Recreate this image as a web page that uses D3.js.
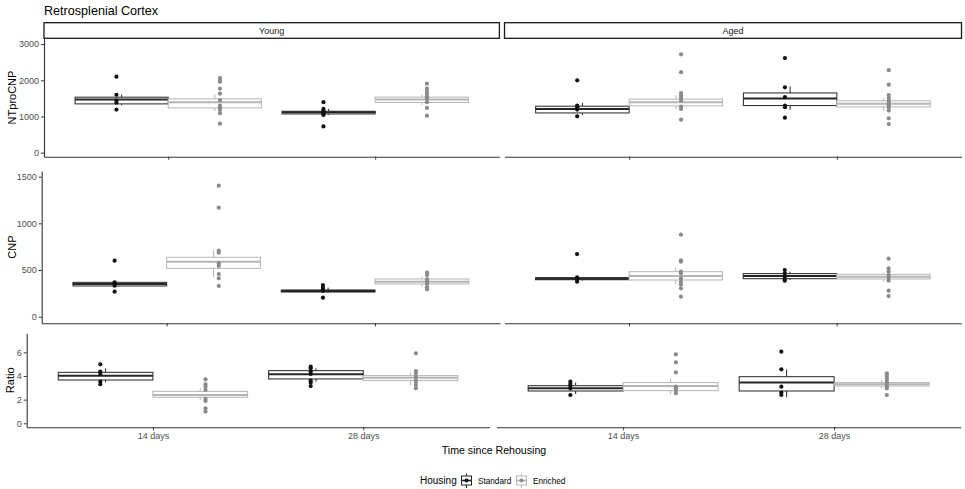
<!DOCTYPE html>
<html>
<head>
<meta charset="utf-8">
<script src="https://cdn.jsdelivr.net/npm/d3@7"></script>
<style>
  body { margin: 0; background: #fff; }
  svg { display: block; font-family: "Liberation Sans", Arial, sans-serif; }
</style>
</head>
<body>
<script>
// categories
var ages = ["Young", "Aged"];
var times = ["14 days", "28 days"];
var housing = ["Standard", "Enriched"];

// group order: Young14-Std, Young14-Enr, Young28-Std, Young28-Enr, Aged14-Std, Aged14-Enr, Aged28-Std, Aged28-Enr
// box stats: [lower whisker, q1, median, q3, upper whisker]
var ntproBox = [
    [1310, 1348, 1468, 1533, 1610],
    [1154, 1237, 1394, 1487, 1616],
    [1042, 1070, 1116, 1144, 1209],
    [1321, 1386, 1470, 1535, 1600],
    [1042, 1098, 1209, 1284, 1377],
    [1209, 1293, 1395, 1479, 1581],
    [1181, 1302, 1500, 1650, 1833],
    [1163, 1265, 1349, 1433, 1507]
];
var ntproPoints = [
    [2100, 1600, 1440, 1380, 1190],
    [2060, 2010, 1960, 1770, 1630, 1450, 1300, 1250, 1180, 1090, 800],
    [1395, 1209, 1163, 1116, 1070, 1042, 726],
    [1907, 1767, 1693, 1628, 1553, 1488, 1395, 1237, 1023],
    [2000, 1302, 1256, 1190, 1005],
    [2716, 2223, 1647, 1581, 1516, 1442, 1274, 1209, 912],
    [2614, 1805, 1535, 1302, 1256, 967],
    [2279, 1879, 1591, 1516, 1442, 1377, 1312, 1246, 1163, 949, 791]
];

var cnpBox = [
    [325, 329, 350, 368, 372],
    [420, 518, 589, 636, 714],
    [257, 264, 275, 286, 311],
    [321, 350, 375, 404, 429],
    [386, 396, 407, 418, 425],
    [350, 393, 436, 482, 529],
    [393, 407, 436, 461, 482],
    [375, 404, 429, 454, 471]
];
var cnpPoints = [
    [600, 368, 350, 332, 268],
    [1404, 1168, 707, 686, 571, 543, 457, 411, 329],
    [339, 311, 293, 275, 204],
    [471, 446, 400, 375, 350, 314, 293],
    [671, 421, 400, 375],
    [879, 604, 589, 482, 464, 411, 375, 346, 304, 214],
    [500, 464, 429, 400, 386],
    [621, 518, 482, 446, 421, 386, 279, 221]
];

var ratioBox = [
    [3.46, 3.66, 4.03, 4.31, 4.65],
    [1.97, 2.20, 2.39, 2.70, 2.96],
    [3.52, 3.75, 4.14, 4.45, 4.65],
    [3.24, 3.61, 3.86, 4.03, 4.28],
    [2.48, 2.73, 2.96, 3.18, 3.44],
    [2.48, 2.76, 3.15, 3.44, 3.75],
    [2.20, 2.73, 3.44, 3.94, 4.56],
    [2.96, 3.15, 3.30, 3.44, 3.66]
];
var ratioPoints = [
    [4.99, 4.37, 4.17, 3.52, 3.30],
    [3.72, 3.30, 3.10, 2.82, 2.06, 1.89, 1.27, 0.99],
    [4.79, 4.65, 4.37, 4.17, 3.61, 3.44, 3.15],
    [5.92, 4.42, 4.23, 3.94, 3.66, 3.52, 3.24, 2.96],
    [3.52, 3.32, 3.15, 2.96, 2.39],
    [5.83, 5.15, 4.31, 3.10, 2.96, 2.76, 2.54],
    [6.06, 4.56, 3.10, 2.59, 2.39],
    [4.23, 4.03, 3.80, 3.61, 3.38, 3.15, 2.96, 2.39]
];

// tick labels
var ntproTicks = [0, 1000, 2000, 3000];
var cnpTicks = [0, 500, 1000, 1500];
var ratioTicks = [0, 2, 4, 6];

var width = 965, height = 489;
var boxColor = { "Standard": "#262626", "Enriched": "#b5b5b5" };
var pointColor = { "Standard": "#111111", "Enriched": "#8a8a8a" };

var svg = d3.select("body").append("svg")
    .attr("width", width)
    .attr("height", height);

svg.append("text")
    .attr("x", 44)
    .attr("y", 14.5)
    .attr("font-size", "12.6px")
    .attr("fill", "#000")
    .text("Retrosplenial Cortex");

var rows = [
    { label: "NTproCNP", box: ntproBox, pts: ntproPoints, ticks: ntproTicks,
      domain: [-111, 3160], bottom: 156.7, top: 38.3,
      panels: [[44, 499.4], [504.5, 961.5]], strip: true, xlabels: false, titleX: 15.5 },
    { label: "CNP", box: cnpBox, pts: cnpPoints, ticks: cnpTicks,
      domain: [-71, 1561], bottom: 323.3, top: 171,
      panels: [[41.7, 500], [504.4, 961.3]], strip: false, xlabels: false, titleX: 15.5 },
    { label: "Ratio", box: ratioBox, pts: ratioPoints, ticks: ratioTicks,
      domain: [-0.34, 7.61], bottom: 427.3, top: 333.3,
      panels: [[26.7, 489.5], [496.5, 960.7]], strip: false, xlabels: true, titleX: 14 }
];

rows.forEach(function(row) {
    var y = d3.scaleLinear().domain(row.domain).range([row.bottom, row.top]);

    svg.append("text")
        .attr("transform", "translate(" + row.titleX + "," + ((row.top + row.bottom) / 2) + ") rotate(-90)")
        .attr("text-anchor", "middle")
        .attr("font-size", "11px")
        .attr("fill", "#000")
        .text(row.label);

    ages.forEach(function(age, p) {
        var ext = row.panels[p];
        var x = d3.scalePoint().domain(times).range(ext).padding(0.6);
        var step = x.step();
        var g = svg.append("g");

        if (row.strip) {
            g.append("rect")
                .attr("x", ext[0])
                .attr("y", 22.7)
                .attr("width", ext[1] - ext[0])
                .attr("height", 15.6)
                .attr("fill", "#fff")
                .attr("stroke", "#1a1a1a")
                .attr("stroke-width", 1.3);
            g.append("text")
                .attr("x", (ext[0] + ext[1]) / 2)
                .attr("y", 33.6)
                .attr("text-anchor", "middle")
                .attr("font-size", "9px")
                .attr("fill", "#1a1a1a")
                .text(age);
        }

        var groups = [];
        times.forEach(function(t, ti) {
            housing.forEach(function(h, hi) {
                var idx = p * 4 + ti * 2 + hi;
                groups.push({ time: t, house: h, side: hi === 0 ? -1 : 1,
                              stats: row.box[idx], pts: row.pts[idx] });
            });
        });

        var bw = step * 0.45;
        groups.forEach(function(d) {
            var cx = x(d.time) + d.side * step * 0.225;
            var s = d.stats;
            var col = boxColor[d.house];
            g.append("line")
                .attr("x1", cx).attr("x2", cx)
                .attr("y1", y(s[3])).attr("y2", y(s[4]))
                .attr("stroke", col).attr("stroke-width", 1);
            g.append("line")
                .attr("x1", cx).attr("x2", cx)
                .attr("y1", y(s[1])).attr("y2", y(s[0]))
                .attr("stroke", col).attr("stroke-width", 1);
            g.append("rect")
                .attr("x", cx - bw / 2)
                .attr("y", y(s[3]))
                .attr("width", bw)
                .attr("height", y(s[1]) - y(s[3]))
                .attr("fill", "#fff")
                .attr("stroke", col)
                .attr("stroke-width", 1);
            g.append("line")
                .attr("x1", cx - bw / 2).attr("x2", cx + bw / 2)
                .attr("y1", y(s[2])).attr("y2", y(s[2]))
                .attr("stroke", col).attr("stroke-width", 2);
        });

        groups.forEach(function(d) {
            var px = x(d.time) + d.side * step * 0.25;
            g.selectAll(null)
                .data(d.pts)
                .enter().append("circle")
                .attr("cx", px)
                .attr("cy", function(v) { return y(v); })
                .attr("r", 2.1)
                .attr("fill", pointColor[d.house]);
        });

        // x axis
        var xAxis = d3.axisBottom(x).tickSize(3).tickSizeOuter(0).tickPadding(2);
        var xg = g.append("g")
            .attr("transform", "translate(0," + row.bottom + ")")
            .call(xAxis);
        xg.select(".domain").attr("stroke", "#333").attr("stroke-width", 1.1);
        xg.selectAll(".tick line").attr("stroke", "#333");
        xg.selectAll(".tick text")
            .attr("fill", "#4d4d4d")
            .attr("font-size", "9px")
            .attr("font-family", "Liberation Sans, Arial, sans-serif");
        if (!row.xlabels) xg.selectAll(".tick text").remove();

        // y axis only on the left panel
        if (p === 0) {
            var yAxis = d3.axisLeft(y).tickValues(row.ticks)
                .tickFormat(d3.format("d"))
                .tickSize(3).tickSizeOuter(0).tickPadding(2);
            var yg = g.append("g")
                .attr("transform", "translate(" + ext[0] + ",0)")
                .call(yAxis);
            yg.select(".domain").attr("stroke", "#333").attr("stroke-width", 1.1);
            yg.selectAll(".tick line").attr("stroke", "#333");
            yg.selectAll(".tick text")
                .attr("fill", "#4d4d4d")
                .attr("font-size", "9px")
                .attr("font-family", "Liberation Sans, Arial, sans-serif");
        }
    });
});

svg.append("text")
    .attr("x", 494)
    .attr("y", 454)
    .attr("text-anchor", "middle")
    .attr("font-size", "10.6px")
    .attr("fill", "#000")
    .text("Time since Rehousing");

// legend
var legend = svg.append("g");
legend.append("text")
    .attr("x", 420)
    .attr("y", 484)
    .attr("font-size", "10px")
    .attr("fill", "#000")
    .text("Housing");

var keyX = [461.5, 516.5];
housing.forEach(function(h, i) {
    var kx = keyX[i];
    var k = legend.append("g");
    var col = boxColor[h];
    k.append("line").attr("x1", kx + 5).attr("x2", kx + 5).attr("y1", 473.5).attr("y2", 488)
        .attr("stroke", col).attr("stroke-width", 1);
    k.append("rect").attr("x", kx).attr("y", 476).attr("width", 10).attr("height", 9)
        .attr("fill", "#fff").attr("stroke", col).attr("stroke-width", 1);
    k.append("line").attr("x1", kx).attr("x2", kx + 10).attr("y1", 480.5).attr("y2", 480.5)
        .attr("stroke", col).attr("stroke-width", 1.6);
    k.append("circle").attr("cx", kx + 5).attr("cy", 480.5).attr("r", 2)
        .attr("fill", pointColor[h]);
    k.append("text")
        .attr("x", kx + 16.5)
        .attr("y", 483.5)
        .attr("font-size", "8.2px")
        .attr("fill", "#000")
        .text(h);
});
</script>
</body>
</html>
